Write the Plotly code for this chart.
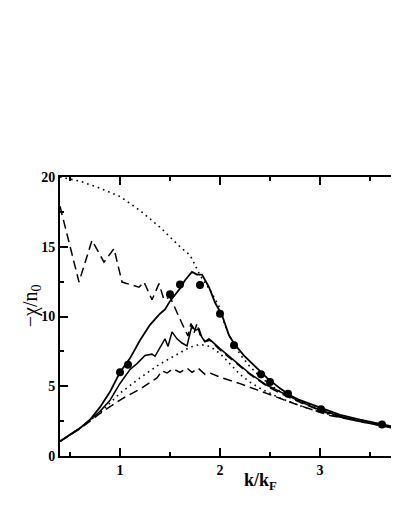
import plotly.graph_objects as go

# upper dotted curve
k_dot_hi = [0.4, 0.6, 0.8, 1.0, 1.2, 1.4, 1.6, 1.7, 1.75, 1.8, 1.9, 2.0, 2.04, 2.09, 2.2, 2.3, 2.4, 2.5, 2.6, 2.8, 3.0, 3.2, 3.4, 3.6, 3.8]
chi_dot_hi = [20.0, 19.7, 19.2, 18.6, 17.6, 16.4, 15.0, 14.4, 13.7, 12.95, 11.9, 10.6, 9.6, 8.65, 7.3, 6.4, 5.7, 5.1, 4.65, 3.95, 3.35, 2.9, 2.55, 2.25, 2.0]

# upper solid curve
k_sol_hi = [0.4, 0.5, 0.6, 0.7, 0.8, 0.9, 1.0, 1.1, 1.2, 1.3, 1.4, 1.45, 1.5, 1.6, 1.65, 1.72, 1.77, 1.82, 1.89, 1.95, 2.02, 2.09, 2.14, 2.24, 2.34, 2.47, 2.6, 2.7, 2.8, 2.9, 3.0, 3.2, 3.4, 3.6, 3.8]
chi_sol_hi = [1.05, 1.5, 2.0, 2.6, 3.5, 4.6, 6.0, 7.0, 8.3, 9.4, 10.2, 10.5, 11.1, 12.0, 12.6, 13.2, 13.0, 13.0, 12.1, 11.0, 10.1, 8.65, 8.06, 7.2, 6.5, 5.6, 4.85, 4.35, 4.0, 3.75, 3.45, 2.95, 2.6, 2.3, 2.0]

# jagged solid curve
k_sol_lo = [0.4, 0.5, 0.6, 0.7, 0.8, 0.9, 1.0, 1.1, 1.17, 1.25, 1.32, 1.35, 1.45, 1.48, 1.52, 1.57, 1.62, 1.67, 1.72, 1.75, 1.79, 1.82, 1.85, 1.89, 1.94, 2.0, 2.14, 2.3, 2.47, 2.6, 2.8, 3.0, 3.2, 3.4, 3.6, 3.8]
chi_sol_lo = [1.05, 1.5, 2.0, 2.6, 3.2, 4.0, 5.2, 6.2, 6.62, 7.2, 7.3, 7.15, 8.4, 7.85, 8.9, 8.4, 8.1, 7.9, 9.37, 9.0, 9.1, 8.5, 8.2, 8.4, 8.06, 7.7, 6.86, 5.9, 5.07, 4.59, 3.9, 3.3, 2.85, 2.5, 2.2, 1.95]

# lower dotted curve
k_dot_lo = [0.4, 0.6, 0.8, 1.0, 1.2, 1.4, 1.6, 1.7, 1.8, 1.9, 2.0, 2.1, 2.2, 2.3, 2.4, 2.5, 2.6, 2.8, 3.0, 3.2, 3.4, 3.6, 3.8]
chi_dot_lo = [1.05, 2.0, 3.1, 4.5, 5.6, 6.6, 7.4, 7.8, 8.0, 7.85, 7.35, 6.6, 5.85, 5.3, 4.85, 4.5, 4.15, 3.6, 3.15, 2.8, 2.5, 2.2, 1.95]

# lower dashed curve
k_dash_lo = [0.4, 0.6, 0.79, 1.02, 1.2, 1.32, 1.37, 1.42, 1.47, 1.53, 1.6, 1.67, 1.72, 1.78, 1.85, 1.9, 2.0, 2.2, 2.47, 2.74, 3.1, 3.4, 3.6, 3.8]
chi_dash_lo = [1.05, 1.95, 3.0, 4.1, 4.8, 5.4, 5.6, 6.1, 5.95, 6.25, 6.0, 6.3, 6.0, 6.3, 5.85, 5.95, 5.65, 5.19, 4.47, 3.76, 2.9, 2.45, 2.2, 1.9]

# upper dashed curve
k_dash_hi = [0.4, 0.59, 0.72, 0.84, 0.94, 1.02, 1.19, 1.24, 1.32, 1.39, 1.44, 1.5, 1.62, 1.68, 1.71, 1.74, 1.77, 1.8, 1.85, 1.9, 2.0, 2.14, 2.3, 2.47, 2.6, 2.8, 3.0, 3.2, 3.4, 3.6, 3.8]
chi_dash_hi = [17.9, 12.47, 15.46, 13.9, 14.87, 12.47, 12.1, 12.47, 11.2, 12.36, 11.2, 11.4, 9.5, 8.6, 9.5, 8.8, 9.5, 8.7, 8.2, 8.3, 7.6, 6.8, 5.85, 5.0, 4.5, 3.85, 3.25, 2.8, 2.45, 2.2, 1.93]

# filled circles
k_pts = [1.0, 1.08, 1.5, 1.6, 1.8, 2.0, 2.14, 2.41, 2.5, 2.68, 3.01, 3.62]
chi_pts = [6.0, 6.55, 11.6, 12.3, 12.25, 10.2, 7.94, 5.86, 5.3, 4.47, 3.35, 2.25]

fig = go.Figure()

fig.add_trace(go.Scatter(x=k_dot_hi, y=chi_dot_hi, mode="lines",
                         line=dict(color="black", width=1.6, dash="1.6px,4px")))
fig.add_trace(go.Scatter(x=k_dot_lo, y=chi_dot_lo, mode="lines",
                         line=dict(color="black", width=1.6, dash="1.6px,4px")))
fig.add_trace(go.Scatter(x=k_dash_lo, y=chi_dash_lo, mode="lines",
                         line=dict(color="black", width=1.5, dash="9px,5px")))
fig.add_trace(go.Scatter(x=k_dash_hi, y=chi_dash_hi, mode="lines",
                         line=dict(color="black", width=1.5, dash="9px,5px")))
fig.add_trace(go.Scatter(x=k_sol_lo, y=chi_sol_lo, mode="lines",
                         line=dict(color="black", width=1.5)))
fig.add_trace(go.Scatter(x=k_sol_hi, y=chi_sol_hi, mode="lines",
                         line=dict(color="black", width=1.8)))
fig.add_trace(go.Scatter(x=k_pts, y=chi_pts, mode="markers",
                         marker=dict(color="black", size=8)))

tick_font = dict(family="Liberation Serif", size=14, color="black")

fig.update_xaxes(
    range=[0.4, 3.79], tick0=0, dtick=1, ticks="inside", ticklen=8, tickwidth=1.5,
    tickcolor="black", showline=True, linecolor="black", linewidth=2,
    mirror="allticks", showgrid=False, zeroline=False,
    minor=dict(dtick=0.5, ticks="inside", ticklen=4, tickwidth=1.5, tickcolor="black"),
    tickfont=tick_font, tickprefix="<b>", ticksuffix="</b>",
)
fig.update_yaxes(
    range=[0, 20], tick0=0, dtick=5, ticks="inside", ticklen=8, tickwidth=1.5,
    tickcolor="black", showline=True, linecolor="black", linewidth=2,
    mirror=False, showgrid=False, zeroline=False,
    minor=dict(dtick=2.5, ticks="inside", ticklen=4, tickwidth=1.5, tickcolor="black"),
    tickfont=tick_font, tickprefix="<b>", ticksuffix="</b>",
)

fig.add_annotation(
    x=0.59, y=-0.09, xref="paper", yref="paper", showarrow=False,
    xanchor="center", yanchor="middle",
    text="<b>k/k<sub>F</sub></b>",
    font=dict(family="Liberation Serif", size=18, color="black"),
)
fig.add_annotation(
    x=-0.086, y=0.54, xref="paper", yref="paper", showarrow=False,
    xanchor="center", yanchor="middle",
    text="−χ/n<sub>0</sub>", textangle=-90,
    font=dict(family="Liberation Serif", size=20, color="black"),
)

# the page body adds an 8px offset; the plot runs off the right edge like the source
fig.update_layout(
    width=391, height=500,
    margin=dict(l=52, r=0, t=169, b=52),
    paper_bgcolor="white", plot_bgcolor="white",
    showlegend=False,
)

fig.write_html("out.html")
